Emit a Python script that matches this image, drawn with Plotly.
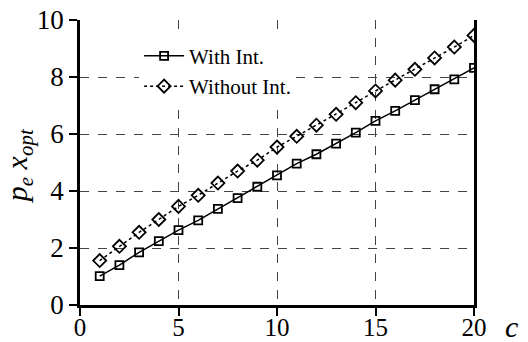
import plotly.graph_objects as go

c_vals = list(range(1, 21))
with_int = [1.01, 1.40, 1.85, 2.24, 2.63, 2.97, 3.37, 3.75, 4.15, 4.55,
            4.96, 5.29, 5.66, 6.05, 6.46, 6.81, 7.19, 7.57, 7.92, 8.32]
without_int = [1.56, 2.06, 2.55, 3.00, 3.46, 3.85, 4.28, 4.70, 5.08, 5.54,
               5.92, 6.31, 6.69, 7.10, 7.51, 7.89, 8.27, 8.67, 9.05, 9.46]
x_ticks = [0, 5, 10, 15, 20]
y_ticks = [0, 2, 4, 6, 8, 10]

FONT = "Liberation Serif, Times New Roman, serif"

fig = go.Figure()
fig.add_trace(go.Scatter(
    x=c_vals, y=with_int, name="With Int.", mode="lines+markers",
    line=dict(color="black", width=1.5, dash="solid"),
    marker=dict(symbol="square-open", size=8, color="black", line=dict(width=1.8, color="black")),
))
fig.add_trace(go.Scatter(
    x=c_vals, y=without_int, name="Without Int.", mode="lines+markers",
    line=dict(color="black", width=1.5, dash="dot"),
    marker=dict(symbol="diamond-open", size=10, color="black", line=dict(width=1.8, color="black")),
))

fig.update_layout(
    width=528, height=342,
    margin=dict(l=80, r=54, t=20, b=37),
    plot_bgcolor="white", paper_bgcolor="white",
    font=dict(family=FONT, size=27, color="black"),
    showlegend=True,
    legend=dict(
        x=0.15, y=0.945, xanchor="left", yanchor="top",
        bgcolor="white", borderwidth=0,
        font=dict(family=FONT, size=21, color="black"),
        tracegroupgap=9, itemwidth=40,
    ),
    xaxis=dict(
        range=[0, 20], tickvals=x_ticks, ticktext=[str(v) for v in x_ticks],
        showgrid=True, gridcolor="#444", griddash="dash", gridwidth=1,
        zeroline=False, showline=True, linecolor="black", linewidth=2.5,
        ticks="outside", ticklen=8, tickwidth=2, tickcolor="black",
        mirror=False, tickfont=dict(family=FONT, size=25), automargin=False,
        ticklabelstandoff=-10,
    ),
    yaxis=dict(
        range=[0, 10], tickvals=y_ticks, ticktext=[str(v) for v in y_ticks],
        showgrid=True, gridcolor="#444", griddash="dash", gridwidth=1,
        zeroline=False, showline=True, linecolor="black", linewidth=2.5,
        ticks="outside", ticklen=8, tickwidth=2, tickcolor="black",
        mirror=True, tickfont=dict(family=FONT, size=27), automargin=False,
    ),
    annotations=[
        dict(
            text="<i>c</i>", x=1.095, y=-0.075, xref="paper", yref="paper",
            xanchor="center", yanchor="middle", showarrow=False,
            font=dict(family=FONT, size=30, color="black"),
        ),
        dict(
            text="<i>p<sub>e</sub> x<sub>opt</sub></i>", x=-0.155, y=0.49, xref="paper", yref="paper",
            xanchor="center", yanchor="middle", showarrow=False, textangle=-90,
            font=dict(family=FONT, size=30, color="black"),
        ),
    ],
)

fig.write_html("out.html")
